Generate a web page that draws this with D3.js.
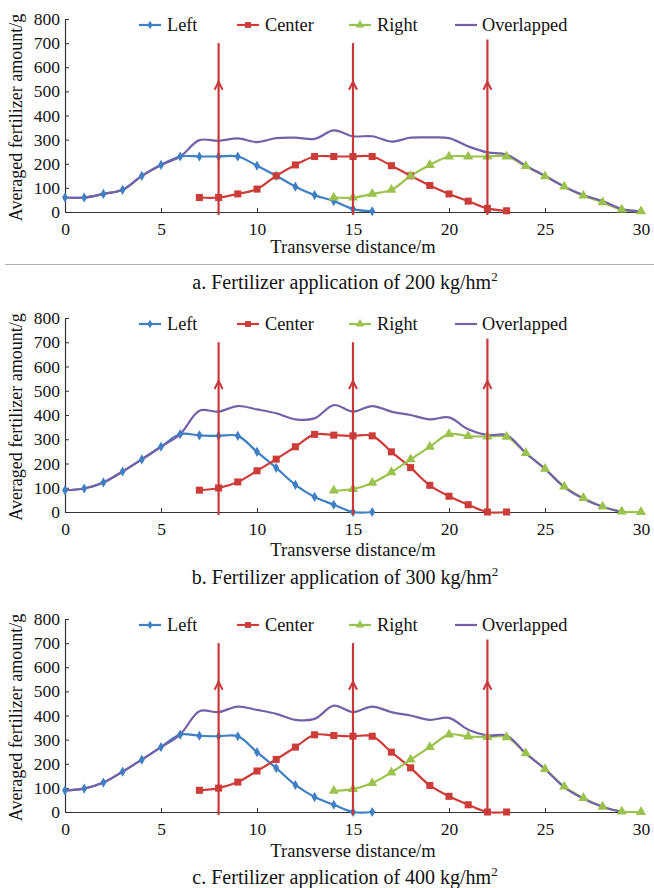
<!DOCTYPE html>
<html><head><meta charset="utf-8">
<script src="https://cdn.jsdelivr.net/npm/d3@7"></script>
<style>body{margin:0;background:#fff}svg{display:block}</style>
</head><body>
<script>
// ---- data ----
const xLeft = d3.range(0, 17);
const xCenter = d3.range(7, 24);
const xRight = d3.range(14, 31);
const yTicks = [0,100,200,300,400,500,600,700,800];
const xTicks = [0,5,10,15,20,25,30];
const arrowX = [8, 15, 22];
const arrowTop = [700, 700, 715];
const arrowHead = 540;

const leftA   = [60,60,75,92,150,195,230,230,230,230,192,150,105,70,45,12,3];
const centerA = [60,60,75,95,150,195,230,230,230,230,192,150,110,75,45,15,5];
const rightA  = [60,60,75,92,150,195,230,230,230,230,190,148,105,68,40,10,3];
const overA   = [60,60,75,92,150,195,230,298,295,305,290,306,308,303,338,314,314,292,308,309,306,272,247,238,192,150,105,70,45,12,3];

const leftB   = [90,97,122,167,217,269,321,316,314,314,248,182,112,62,30,0,0];
const centerB = [90,99,124,170,218,269,320,317,314,314,248,183,110,65,30,0,0];
const rightB  = [88,95,120,164,217,269,321,313,311,310,243,178,105,58,22,2,0];
const overB   = [90,97,122,167,217,269,321,418,414,437,423,407,382,386,441,414,437,414,400,382,390,341,317,317,243,178,103,55,22,0];

const leftC   = [90,97,122,167,217,269,321,316,314,314,248,182,112,62,30,0,0];
const centerC = [90,99,124,170,218,269,320,317,314,314,248,183,110,65,30,0,0];
const rightC  = [88,95,120,164,217,269,321,313,311,310,243,178,105,58,22,2,0];
const overC   = [90,97,122,167,217,269,321,418,414,437,423,407,382,386,441,414,437,414,400,382,390,341,317,317,243,178,103,55,22,0];

const captions = ["a. Fertilizer application of 200 kg/hm", "b. Fertilizer application of 300 kg/hm", "c. Fertilizer application of 400 kg/hm"];
const seriesNames = ["Left", "Center", "Right", "Overlapped"];
const xTitle = "Transverse distance/m";
const yTitle = "Averaged fertilizer amount/g";

const panels = [
  {left: leftA, center: centerA, right: rightA, over: overA, top: 19, bottom: 212, titleY: 253, capY: 289},
  {left: leftB, center: centerB, right: rightB, over: overB, top: 318, bottom: 512, titleY: 556, capY: 584},
  {left: leftC, center: centerC, right: rightC, over: overC, top: 619, bottom: 812, titleY: 857, capY: 884}
];

// ---- style ----
const colors = {Left: "#3f7fc4", Center: "#cc3d3a", Right: "#9cc24e", Overlapped: "#7462a8"};
const arrowColor = "#c8383a";
const axisColor = "#333";
const font = "'Liberation Serif','Times New Roman',serif";

const W = 654, H = 888;
const svg = d3.select("body").append("svg").attr("width", W).attr("height", H)
  .style("font-family", font);

const x = d3.scaleLinear().domain([0, 30]).range([65, 641]);

panels.forEach((p, i) => {
  const y = d3.scaleLinear().domain([0, 800]).range([p.bottom, p.top]);
  const g = svg.append("g");

  // axes
  const xa = g.append("g").attr("transform", `translate(0,${p.bottom})`)
    .call(d3.axisBottom(x).tickValues(xTicks).tickSizeInner(-4).tickSizeOuter(0).tickPadding(10));
  const ya = g.append("g").attr("transform", `translate(65,0)`)
    .call(d3.axisLeft(y).tickValues(yTicks).tickSizeInner(-4).tickSizeOuter(0).tickPadding(5));
  [xa, ya].forEach(a => {
    a.select(".domain").attr("stroke", axisColor).attr("stroke-width", 1.2);
    a.selectAll(".tick line").attr("stroke", axisColor);
    a.selectAll("text").attr("fill", "#111").style("font-size", "17.5px").style("font-family", font);
  });
  xa.selectAll("text").attr("dy", "0.72em");

  // series lines
  const line = (xs) => d3.line().x((d, k) => x(xs[k])).y(d => y(d)).curve(d3.curveCatmullRom.alpha(0.5));
  const xOver = d3.range(0, p.over.length);
  const defs = [
    {name: "Left", xs: xLeft, vals: p.left},
    {name: "Center", xs: xCenter, vals: p.center},
    {name: "Right", xs: xRight, vals: p.right},
    {name: "Overlapped", xs: xOver, vals: p.over}
  ];
  defs.forEach(s => {
    g.append("path").datum(s.vals).attr("d", line(s.xs)).attr("fill", "none")
      .attr("stroke", colors[s.name]).attr("stroke-width", 2.2);
  });
  // markers
  const sym = {Left: d3.symbolDiamond, Center: d3.symbolSquare, Right: d3.symbolTriangle};
  const size = {Left: 30, Center: 50, Right: 45};
  ["Left", "Center", "Right"].forEach(n => {
    const s = defs.find(d => d.name === n);
    g.selectAll(null).data(s.vals).enter().append("path")
      .attr("transform", (d, k) => `translate(${x(s.xs[k])},${y(d)})`)
      .attr("d", d3.symbol().type(sym[n]).size(size[n]))
      .attr("fill", colors[n]);
  });

  // arrows
  arrowX.forEach((ax, k) => {
    const px = x(ax);
    g.append("line").attr("x1", px).attr("x2", px).attr("y1", y(arrowTop[k])).attr("y2", p.bottom + 3)
      .attr("stroke", arrowColor).attr("stroke-width", 2.2);
    const ty = y(arrowHead);
    g.append("path").attr("d", `M${px - 4},${ty + 8}L${px},${ty}L${px + 4},${ty + 8}`)
      .attr("fill", "none").attr("stroke", arrowColor).attr("stroke-width", 2);
  });

  // legend
  const ly = p.top + 6;
  const legendPos = [{lx: 139, tx: 167}, {lx: 237, tx: 265}, {lx: 349, tx: 377}, {lx: 455, tx: 482}];
  seriesNames.forEach((n, k) => {
    const lp = legendPos[k];
    g.append("line").attr("x1", lp.lx).attr("x2", lp.lx + 22).attr("y1", ly).attr("y2", ly)
      .attr("stroke", colors[n]).attr("stroke-width", 2.2);
    if (sym[n]) {
      g.append("path").attr("transform", `translate(${lp.lx + 11},${ly})`)
        .attr("d", d3.symbol().type(sym[n]).size(size[n] * 0.7)).attr("fill", colors[n]);
    }
    g.append("text").attr("x", lp.tx).attr("y", ly + 6).text(n)
      .style("font-size", "18.3px").attr("fill", "#111");
  });

  // titles
  g.append("text").attr("x", 353).attr("y", p.titleY).attr("text-anchor", "middle")
    .style("font-size", "18.5px").attr("fill", "#111").text(xTitle);
  g.append("text").attr("transform", `translate(22,${(p.top + p.bottom) / 2 + 2}) rotate(-90)`)
    .attr("text-anchor", "middle").style("font-size", "18px").attr("fill", "#111").text(yTitle);

  const cap = g.append("text").attr("x", 345).attr("y", p.capY).attr("text-anchor", "middle")
    .style("font-size", "20px").attr("fill", "#111");
  cap.append("tspan").text(captions[i]);
  cap.append("tspan").attr("dy", -8).style("font-size", "13px").text("2");

  if (i === 0) {
    g.append("line").attr("x1", 5).attr("x2", 654).attr("y1", 264.5).attr("y2", 264.5)
      .attr("stroke", "#b0b0b0").attr("stroke-width", 1);
  }
});
</script>
</body></html>
